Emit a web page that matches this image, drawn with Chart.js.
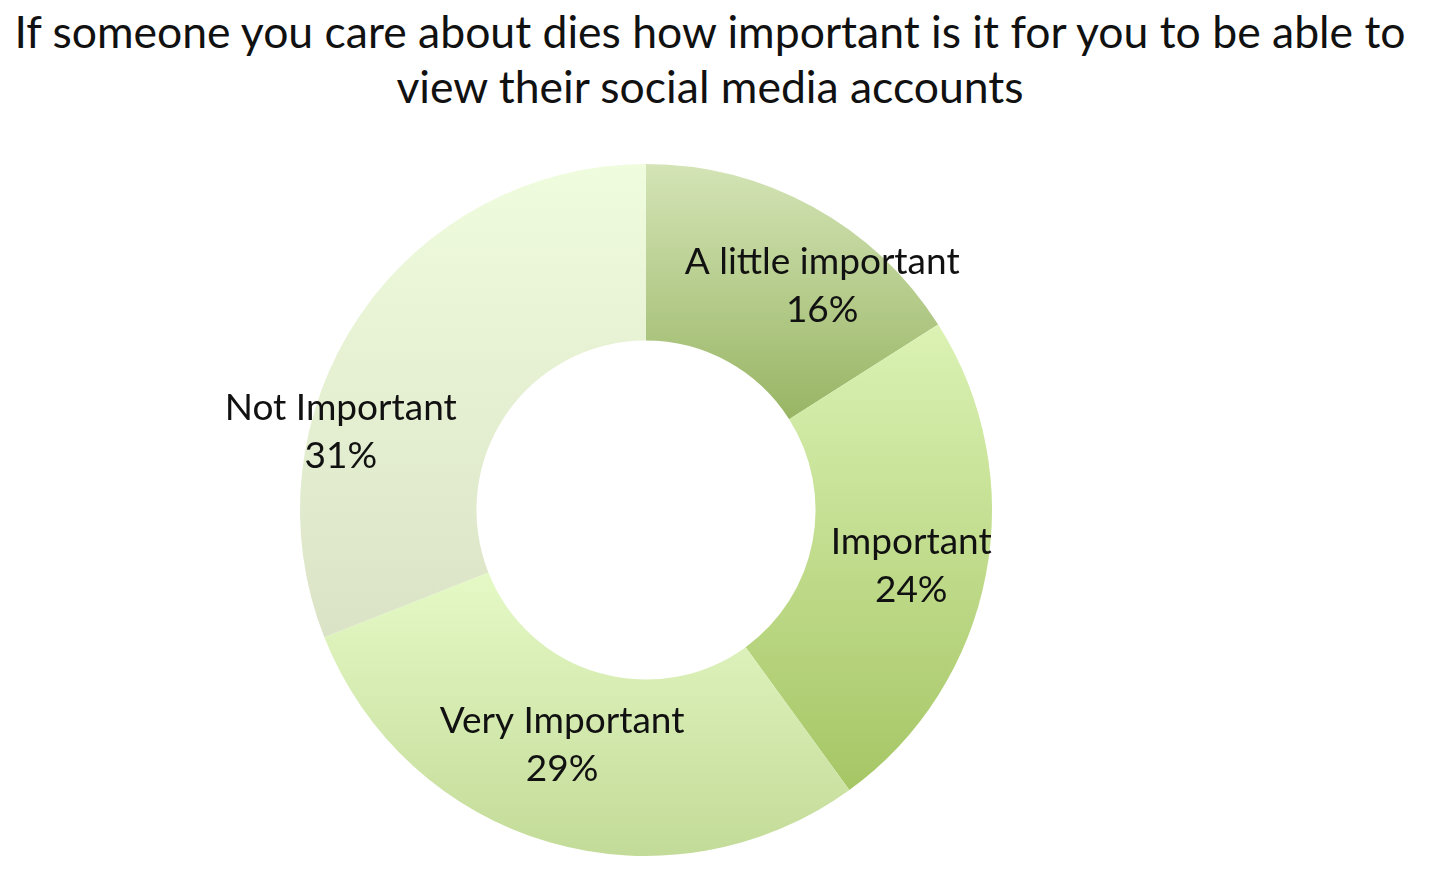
<!DOCTYPE html>
<html>
<head>
<meta charset="utf-8">
<script src="https://cdn.jsdelivr.net/npm/chart.js@4"></script>
<style>
html,body{margin:0;padding:0;background:#fff;width:1438px;height:869px;overflow:hidden;}
#wrap{position:relative;width:1438px;height:869px;}
#title{position:absolute;left:0;top:3px;width:1420px;text-align:center;font-family:Lato,"Open Sans",sans-serif;font-size:44.5px;line-height:55px;color:#111;white-space:nowrap;}
canvas{position:absolute;left:0;top:0;}
</style>
</head>
<body>
<div id="wrap">
<div id="title">If someone you care about dies how important is it for you to be able to<br>view their social media accounts</div>
<canvas id="c" width="1438" height="869"></canvas>
</div>
<script>
const categories = ["A little important", "Important", "Very Important", "Not Important"];
const values = [16, 24, 29, 31];

const gradTop = ["#d4e4b6", "#dbf2b4", "#e5f9c6", "#effcdd"];
const gradBottom = ["#98b564", "#a6c665", "#c3db98", "#dbe3c6"];
const labelNudge = [[52, 2], [12, 8], [-12, -12], [-92, 67]];

function arcGeom(chart, i) {
  const ca = chart.chartArea;
  const cx = (ca.left + ca.right) / 2, cy = (ca.top + ca.bottom) / 2;
  const R = Math.min(ca.right - ca.left, ca.bottom - ca.top) / 2;
  const r = R * 0.49;
  const total = values.reduce((a, b) => a + b, 0);
  let acc = 0;
  for (let k = 0; k < i; k++) acc += values[k];
  const a0 = -Math.PI / 2 + acc / total * 2 * Math.PI;
  const a1 = a0 + values[i] / total * 2 * Math.PI;
  return {cx, cy, R, r, a0, a1};
}

function sliceFill(ctx) {
  const chart = ctx.chart;
  const i = ctx.dataIndex;
  if (!chart.chartArea || i === undefined) return gradTop[i || 0];
  const g = arcGeom(chart, i);
  let ymin = Infinity, ymax = -Infinity;
  for (let s = 0; s <= 100; s++) {
    const a = g.a0 + (g.a1 - g.a0) * s / 100;
    for (const rad of [g.R, g.r]) {
      const y = g.cy + rad * Math.sin(a);
      ymin = Math.min(ymin, y); ymax = Math.max(ymax, y);
    }
  }
  const grad = chart.ctx.createLinearGradient(0, ymin, 0, ymax);
  grad.addColorStop(0, gradTop[i]);
  grad.addColorStop(1, gradBottom[i]);
  return grad;
}

const labelPlugin = {
  id: 'sliceLabels',
  afterDatasetsDraw(chart) {
    const c = chart.ctx;
    c.save();
    c.font = '37px Lato, "Open Sans", sans-serif';
    c.fillStyle = '#111';
    c.textAlign = 'center';
    c.textBaseline = 'middle';
    const total = values.reduce((a, b) => a + b, 0);
    for (let i = 0; i < values.length; i++) {
      const g = arcGeom(chart, i);
      const am = (g.a0 + g.a1) / 2;
      const rm = (g.R + g.r) / 2;
      const x = g.cx + rm * Math.cos(am) + labelNudge[i][0];
      const y = g.cy + rm * Math.sin(am) + labelNudge[i][1];
      const pct = Math.round(values[i] / total * 100) + '%';
      c.fillText(categories[i], x, y - 24);
      c.fillText(pct, x, y + 24);
    }
    c.restore();
  }
};

new Chart(document.getElementById('c'), {
  type: 'doughnut',
  data: {
    labels: categories,
    datasets: [{
      data: values,
      backgroundColor: sliceFill,
      borderWidth: 0,
      hoverOffset: 0
    }]
  },
  options: {
    responsive: false,
    animation: false,
    cutout: '49%',
    layout: {padding: {left: 300, right: 446, top: 164, bottom: 13}},
    plugins: {
      legend: {display: false},
      tooltip: {enabled: false},
      title: {display: false}
    }
  },
  plugins: [labelPlugin]
});
</script>
</body>
</html>
